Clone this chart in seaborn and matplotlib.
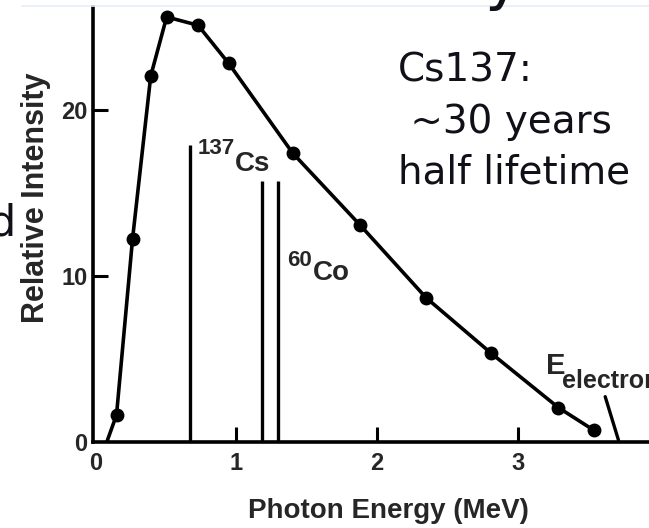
import matplotlib
matplotlib.use("Agg")
import matplotlib.pyplot as plt
import seaborn as sns
import pandas as pd

# spectrum
energy = [0.08, 0.149, 0.263, 0.392, 0.505, 0.728, 0.946, 1.40, 1.878, 2.347, 2.81, 3.287, 3.536]
intensity = [0.0, 1.63, 12.25, 22.05, 25.6, 25.1, 22.8, 17.4, 13.07, 8.69, 5.34, 2.07, 0.72]
has_dot = [False] + [True] * 12

# gamma lines of the calibration sources
line_energy = [0.671, 1.18, 1.298]
line_height = [17.9, 15.7, 15.7]

# maximum electron energy marker
e_max_x = [3.619, 3.713]
e_max_y = [2.73, 0.12]

xticks = [0, 1, 2, 3]
yticks = [0, 10, 20]

df = pd.DataFrame({"energy": energy, "intensity": intensity, "dot": has_dot})

sns.set_style("ticks")
plt.rcParams["font.family"] = ["Liberation Sans", "DejaVu Sans"]

W, H = 649, 528
fig = plt.figure(figsize=(W / 100, H / 100), dpi=100)
ax = fig.add_axes([93 / W, (H - 442) / H, 1 - 93 / W, 435 / H])

sns.lineplot(data=df, x="energy", y="intensity", color="black", lw=2.6, ax=ax)
sns.scatterplot(data=df[df["dot"]], x="energy", y="intensity", color="black",
                s=100, edgecolor="black", linewidth=0, ax=ax, zorder=3)
ax.vlines(line_energy, 0, line_height, color="black", lw=2.4)
ax.plot(e_max_x, e_max_y, color="black", lw=2.4, clip_on=False)

ax.set_xlim(-0.018, 3.93)
ax.set_ylim(0, 26.2)
ax.set_xticks(xticks)
ax.set_yticks(yticks)
ax.tick_params(direction="in", length=11, width=2.2, labelsize=17, color="black")
ax.tick_params(axis="x", pad=7)
ax.tick_params(axis="y", pad=4)
for lab in ax.get_xticklabels() + ax.get_yticklabels():
    lab.set_fontweight("bold")
ax.yaxis.get_major_ticks()[0].tick1line.set_visible(False)
ax.xaxis.get_major_ticks()[0].tick1line.set_visible(False)

for s in ["top", "right"]:
    ax.spines[s].set_visible(False)
for s in ["left", "bottom"]:
    ax.spines[s].set_linewidth(2.6)
    ax.spines[s].set_color("black")

ax.set_xlabel("Photon Energy (MeV)", fontsize=20, fontweight="bold")
ax.set_ylabel("Relative Intensity", fontsize=22, fontweight="bold")
ax.xaxis.set_label_coords((388 - 93) / 556, -(511 - 442) / 435)
ax.yaxis.set_label_coords(-(93 - 36) / 556, (442 - 198) / 435)
ax.xaxis.label.set_va("center")
ax.yaxis.label.set_va("center")


def px(x, y):
    return x / W, 1 - y / H


# source labels
fig.text(*px(198, 154), "137", fontsize=16, fontweight="bold", va="baseline")
fig.text(*px(235, 171), "Cs", fontsize=20, fontweight="bold", va="baseline")
fig.text(*px(287, 266), "60", fontsize=16, fontweight="bold", va="baseline")
fig.text(*px(313, 280), "Co", fontsize=20, fontweight="bold", va="baseline")
fig.text(*px(546, 374), "E", fontsize=21, fontweight="bold", va="baseline")
fig.text(*px(562, 388), "electron", fontsize=18, fontweight="bold", va="baseline")

# slide annotation
note = dict(fontsize=28, color="#101018", family="DejaVu Sans", va="baseline")
fig.text(*px(398, 82), "Cs137:", **note)
fig.text(*px(398, 133), " ~30 years", **note)
fig.text(*px(398, 183), "half lifetime", **note)

# bits of the slide cut off at the edges
fig.add_artist(plt.Line2D([22 / W, 1], [1 - 6 / H, 1 - 6 / H], color="#e6eef8", lw=1.2))
fig.text(*px(16, 235), "d", fontsize=31, family="DejaVu Sans", ha="right", va="baseline", color="#101018")
fig.text(*px(484, -2), "y", fontsize=44, family="DejaVu Sans", va="baseline", color="#101018")

fig.savefig("out.png", dpi=100)
plt.close(fig)
